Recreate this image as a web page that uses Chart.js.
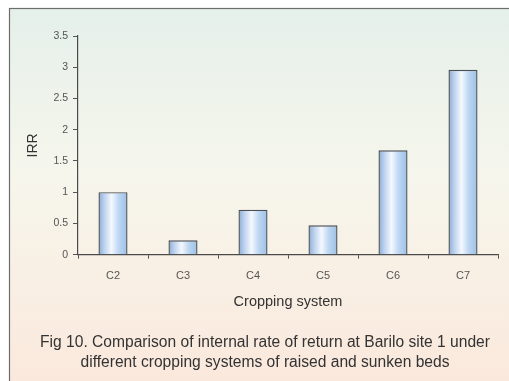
<!DOCTYPE html>
<html>
<head>
<meta charset="utf-8">
<script src="https://cdn.jsdelivr.net/npm/chart.js@4.4.0/dist/chart.umd.min.js"></script>
<style>
  html, body { margin: 0; padding: 0; background: #ffffff; }
  #wrap { position: relative; width: 509px; height: 381px; }
</style>
</head>
<body>
<div id="wrap"><canvas id="chart" width="509" height="381"></canvas></div>
<script>
// Internal rate of return by cropping system (raised and sunken beds, Barilo site 1)
const categories = ['C2', 'C3', 'C4', 'C5', 'C6', 'C7'];
const irrValues = [1.0, 0.23, 0.72, 0.47, 1.67, 2.96];
const yTicks = [0, 0.5, 1, 1.5, 2, 2.5, 3, 3.5];
const captionLines = [
  'Fig 10. Comparison of internal rate of return at Barilo site 1 under',
  'different cropping systems of raised and sunken beds'
];

const FONT = '"Liberation Sans", Arial, sans-serif';
const BAR_PCT = 0.83;
const CAT_PCT = 0.5;

// Framed panel with a soft mint-to-peach wash behind the plot
const panelPlugin = {
  id: 'panel',
  beforeDraw(chart) {
    const ctx = chart.ctx;
    const x0 = 9.5, y0 = 8.5, x1 = chart.width + 2, y1 = chart.height + 2;
    ctx.save();
    const g = ctx.createLinearGradient(0, y0, 0, y1);
    g.addColorStop(0, '#e5f0ea');
    g.addColorStop(0.45, '#f6f6ec');
    g.addColorStop(1, '#fbe8dc');
    ctx.fillStyle = g;
    ctx.fillRect(x0, y0, x1 - x0, y1 - y0);
    ctx.strokeStyle = '#6d6d6d';
    ctx.lineWidth = 1.2;
    ctx.strokeRect(x0, y0, x1 - x0, y1 - y0);
    ctx.restore();
  }
};

// Cylinder-like horizontal shading for each bar, centred on its category
function barFill(context) {
  const chart = context.chart;
  const xScale = chart.scales && chart.scales.x;
  if (!chart.chartArea || !xScale || context.dataIndex === undefined) return '#b9d3ef';
  const cx = xScale.getPixelForValue(context.dataIndex);
  const catW = chart.chartArea.width / categories.length;
  const half = catW * BAR_PCT * CAT_PCT / 2;
  if (!isFinite(cx) || !isFinite(half)) return '#b9d3ef';
  const g = chart.ctx.createLinearGradient(cx - half, 0, cx + half, 0);
  g.addColorStop(0, '#8eaad3');
  g.addColorStop(0.2, '#bcd2ee');
  g.addColorStop(0.45, '#f4f8fe');
  g.addColorStop(0.7, '#bcd6f2');
  g.addColorStop(1, '#9dc0e6');
  return g;
}

new Chart(document.getElementById('chart'), {
  type: 'bar',
  data: {
    labels: categories,
    datasets: [{
      data: irrValues,
      backgroundColor: barFill,
      borderColor: '#4a4f56',
      borderWidth: 1.4,
      borderSkipped: 'bottom',
      barPercentage: BAR_PCT,
      categoryPercentage: CAT_PCT
    }]
  },
  options: {
    responsive: false,
    animation: false,
    layout: { padding: { left: 32, top: 36, right: 11, bottom: 8.75 } },
    plugins: {
      legend: { display: false },
      tooltip: { enabled: false },
      title: {
        display: true,
        position: 'bottom',
        text: captionLines,
        color: '#333333',
        font: { family: FONT, size: 15.6, weight: 'normal', lineHeight: 1.26 },
        padding: 0
      }
    },
    scales: {
      x: {
        grid: {
          display: true,
          drawOnChartArea: false,
          drawTicks: true,
          tickLength: 4,
          color: '#555',
          offset: true
        },
        border: { display: true, color: '#4a4a4a', width: 1.2 },
        ticks: {
          color: '#555',
          padding: 11,
          font: { family: FONT, size: 11 }
        },
        title: {
          display: true,
          text: 'Cropping system',
          color: '#333333',
          font: { family: FONT, size: 14.5, lineHeight: 1.2 },
          padding: { top: 0, bottom: 22.5 }
        },
        afterFit(scale) { scale.height = 78.25; }
      },
      y: {
        min: 0,
        max: 3.5,
        afterBuildTicks(scale) { scale.ticks = yTicks.map(v => ({ value: v })); },
        grid: {
          display: true,
          drawOnChartArea: false,
          drawTicks: true,
          tickLength: 5,
          color: '#555'
        },
        border: { display: true, color: '#4a4a4a', width: 1.2 },
        ticks: {
          color: '#555',
          padding: 5,
          font: { family: FONT, size: 10.5 },
          callback: v => String(v)
        },
        title: {
          display: true,
          text: 'IRR',
          color: '#333333',
          font: { family: FONT, size: 14, lineHeight: 1.2 },
          padding: { top: -7.4, bottom: 0 }
        },
        afterFit(scale) { scale.width = 46; }
      }
    }
  },
  plugins: [panelPlugin]
});
</script>
</body>
</html>
